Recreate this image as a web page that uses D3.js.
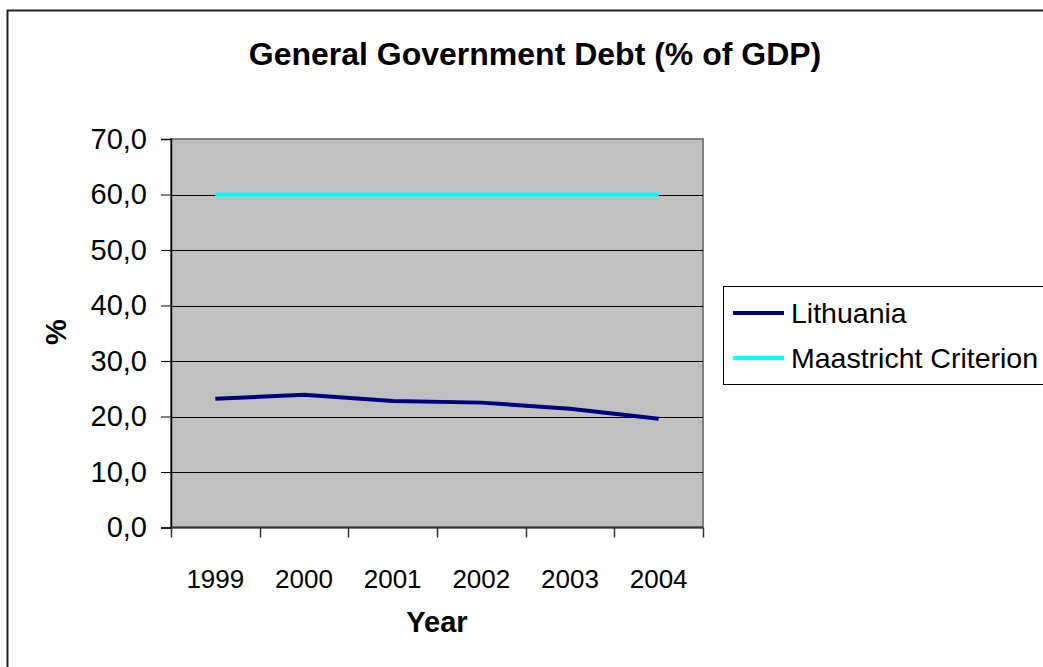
<!DOCTYPE html>
<html>
<head>
<meta charset="utf-8">
<script src="https://cdn.jsdelivr.net/npm/d3@7"></script>
<style>
  html, body { margin: 0; padding: 0; background: #fff; }
  svg { display: block; font-family: "Liberation Sans", Arial, sans-serif; }
</style>
</head>
<body>
<svg id="chart" width="1043" height="667"></svg>
<script>
// Data
const years = ["1999", "2000", "2001", "2002", "2003", "2004"];
const lithuania = [23.2, 23.9, 22.8, 22.5, 21.4, 19.6];
const maastricht = [60, 60, 60, 60, 60, 60];
const yTicks = [0, 10, 20, 30, 40, 50, 60, 70];
const seriesNames = ["Lithuania", "Maastricht Criterion"];
const seriesColors = ["#000080", "#00FFFF"];

const svg = d3.select("#chart");

// Outer chart frame
svg.append("rect")
  .attr("x", 7.5).attr("y", 10.5)
  .attr("width", 1100).attr("height", 700)
  .attr("fill", "#fff").attr("stroke", "#222").attr("stroke-width", 2);

const plot = { left: 171, top: 139, right: 703, bottom: 527.5 };

const x = d3.scaleBand().domain(years).range([plot.left, plot.right]);
const y = d3.scaleLinear().domain([0, 70]).range([plot.bottom, plot.top]);

// Plot area background
svg.append("rect")
  .attr("x", plot.left).attr("y", plot.top)
  .attr("width", plot.right - plot.left).attr("height", plot.bottom - plot.top)
  .attr("fill", "#C0C0C0").attr("stroke", "#808080").attr("stroke-width", 2);

// Horizontal gridlines
svg.append("g")
  .selectAll("line")
  .data(yTicks.filter(v => v > 0 && v < 70))
  .join("line")
  .attr("x1", plot.left).attr("x2", plot.right)
  .attr("y1", d => Math.round(y(d)) + 0.5).attr("y2", d => Math.round(y(d)) + 0.5)
  .attr("stroke", "#000").attr("stroke-width", 1);

// Y axis
const yAxis = svg.append("g")
  .attr("transform", `translate(${plot.left},0)`)
  .call(d3.axisLeft(y).tickValues(yTicks).tickSize(10).tickPadding(14)
    .tickFormat(d => d3.format(".1f")(d).replace(".", ",")));
yAxis.select(".domain").attr("stroke", "#000").attr("stroke-width", 1.5);
yAxis.selectAll(".tick line").attr("stroke", "#000");
yAxis.selectAll("text").attr("font-size", 29).attr("fill", "#000")
  .attr("font-family", "Liberation Sans, Arial, sans-serif");

// X axis with ticks between categories
const xAxisG = svg.append("g").attr("transform", `translate(0,${plot.bottom})`);
xAxisG.append("line")
  .attr("x1", plot.left).attr("x2", plot.right)
  .attr("stroke", "#333").attr("stroke-width", 2);
const bounds = years.map(d => x(d)).concat([x(years[years.length - 1]) + x.bandwidth()]);
xAxisG.selectAll("line.tick")
  .data(bounds)
  .join("line").attr("class", "tick")
  .attr("x1", d => Math.round(d) + 0.5).attr("x2", d => Math.round(d) + 0.5)
  .attr("y1", 0).attr("y2", 10)
  .attr("stroke", "#333").attr("stroke-width", 1.5);
xAxisG.selectAll("text")
  .data(years)
  .join("text")
  .attr("x", d => x(d) + x.bandwidth() / 2)
  .attr("y", 60)
  .attr("text-anchor", "middle")
  .attr("font-size", 26)
  .text(d => d);

// Series lines
const line = d3.line()
  .x((d, i) => x(years[i]) + x.bandwidth() / 2)
  .y(d => y(d));

svg.append("path").datum(maastricht)
  .attr("d", line).attr("fill", "none")
  .attr("stroke", seriesColors[1]).attr("stroke-width", 4);
svg.append("path").datum(lithuania)
  .attr("d", line).attr("fill", "none")
  .attr("stroke", seriesColors[0]).attr("stroke-width", 4);

// Title and axis titles
svg.append("text")
  .attr("x", 535).attr("y", 65)
  .attr("text-anchor", "middle")
  .attr("font-size", 32).attr("font-weight", "bold")
  .text("General Government Debt (% of GDP)");

svg.append("text")
  .attr("x", 437).attr("y", 632)
  .attr("text-anchor", "middle")
  .attr("font-size", 29).attr("font-weight", "bold")
  .text("Year");

svg.append("text")
  .attr("transform", "translate(66,332) rotate(-90)")
  .attr("text-anchor", "middle")
  .attr("font-size", 29).attr("font-weight", "bold")
  .text("%");

// Legend
const legend = svg.append("g");
legend.append("rect")
  .attr("x", 723.5).attr("y", 286.5)
  .attr("width", 340).attr("height", 98)
  .attr("fill", "#fff").attr("stroke", "#000").attr("stroke-width", 1);
const rows = legend.selectAll("g.row")
  .data(seriesNames)
  .join("g").attr("class", "row")
  .attr("transform", (d, i) => `translate(0,${313 + i * 45})`);
rows.append("line")
  .attr("x1", 733).attr("x2", 784)
  .attr("stroke", (d, i) => seriesColors[i]).attr("stroke-width", 4);
rows.append("text")
  .attr("x", 791).attr("y", 10)
  .attr("font-size", 28.5)
  .text(d => d);
</script>
</body>
</html>
